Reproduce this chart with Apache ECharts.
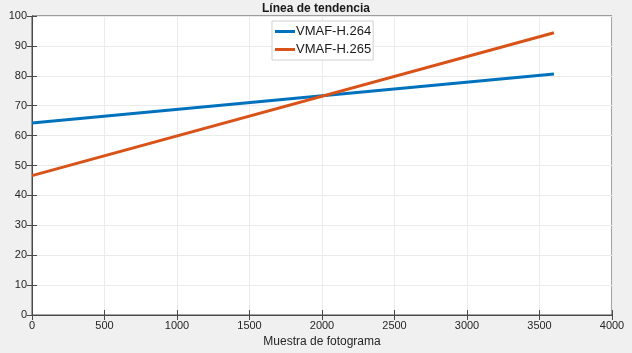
<!DOCTYPE html>
<html>
<head>
<meta charset="utf-8">
<script src="https://cdn.jsdelivr.net/npm/echarts@6/dist/echarts.min.js"></script>
<style>
html,body{margin:0;padding:0;background:#f0f0f0;}
#chart{width:632px;height:353px;}
</style>
</head>
<body>
<div id="chart"></div>
<script>
// trend lines: start and end of each fitted line
var frames = [0, 3600];
var vmaf264 = [64.2, 80.6];
var vmaf265 = [46.6, 94.4];
var names = ['VMAF-H.264', 'VMAF-H.265'];

function pairs(xs, ys) {
    var out = [];
    for (var i = 0; i < xs.length; i++) {
        out.push([xs[i], ys[i]]);
    }
    return out;
}

var chart = echarts.init(document.getElementById('chart'), null, {renderer: 'canvas'});
var axisCol = '#4a4a4a';
var font = 'Liberation Sans, Arial, sans-serif';
var plain = function (v) { return String(v); };

var option = {
    backgroundColor: '#f0f0f0',
    animation: false,
    title: {
        text: 'Línea de tendencia',
        left: 'center',
        top: -2,
        textStyle: {fontSize: 12, fontWeight: 'bold', color: '#1a1a1a', fontFamily: font}
    },
    legend: {
        data: names,
        orient: 'vertical',
        left: 272,
        top: 21,
        itemWidth: 20,
        itemHeight: 3,
        itemGap: 5,
        padding: [4, 2, 4, 3],
        backgroundColor: '#fff',
        borderColor: '#d0d0d0',
        borderWidth: 1,
        icon: 'rect',
        textStyle: {fontSize: 13, color: '#1a1a1a', fontFamily: font, padding: [0, 0, 0, -4]}
    },
    grid: {
        left: 32, right: 20, top: 16, bottom: 38,
        show: true, backgroundColor: '#fff', borderColor: axisCol, borderWidth: 1
    },
    xAxis: [{
        type: 'value', min: 0, max: 4000, interval: 500,
        name: 'Muestra de fotograma', nameLocation: 'middle', nameGap: 21,
        nameTextStyle: {fontSize: 12, color: '#262626', fontFamily: font},
        axisLine: {show: true, lineStyle: {color: axisCol}},
        axisTick: {show: true, inside: true, length: 5, lineStyle: {color: axisCol}},
        axisLabel: {fontSize: 11, color: '#262626', fontFamily: font, margin: 5, formatter: plain},
        splitLine: {show: true, lineStyle: {color: '#ebebeb'}}
    }, {
        type: 'value', min: 0, max: 4000, interval: 500, position: 'top',
        axisLine: {show: true, lineStyle: {color: axisCol}},
        axisTick: {show: true, inside: true, length: 5, lineStyle: {color: axisCol}},
        axisLabel: {show: false}, splitLine: {show: false}
    }],
    yAxis: [{
        type: 'value', min: 0, max: 100, interval: 10,
        axisLine: {show: true, lineStyle: {color: axisCol}},
        axisTick: {show: true, inside: true, length: 5, lineStyle: {color: axisCol}},
        axisLabel: {fontSize: 11, color: '#262626', fontFamily: font, margin: 5, formatter: plain},
        splitLine: {show: true, lineStyle: {color: '#ebebeb'}}
    }, {
        type: 'value', min: 0, max: 100, interval: 10, position: 'right',
        axisLine: {show: true, lineStyle: {color: axisCol}},
        axisTick: {show: true, inside: true, length: 5, lineStyle: {color: axisCol}},
        axisLabel: {show: false}, splitLine: {show: false}
    }],
    series: [{
        name: names[0], type: 'line', data: pairs(frames, vmaf264),
        showSymbol: false, color: '#0072BD', lineStyle: {width: 3}
    }, {
        name: names[1], type: 'line', data: pairs(frames, vmaf265),
        showSymbol: false, color: '#D95319', lineStyle: {width: 3}
    }]
};
chart.setOption(option);
</script>
</body>
</html>
